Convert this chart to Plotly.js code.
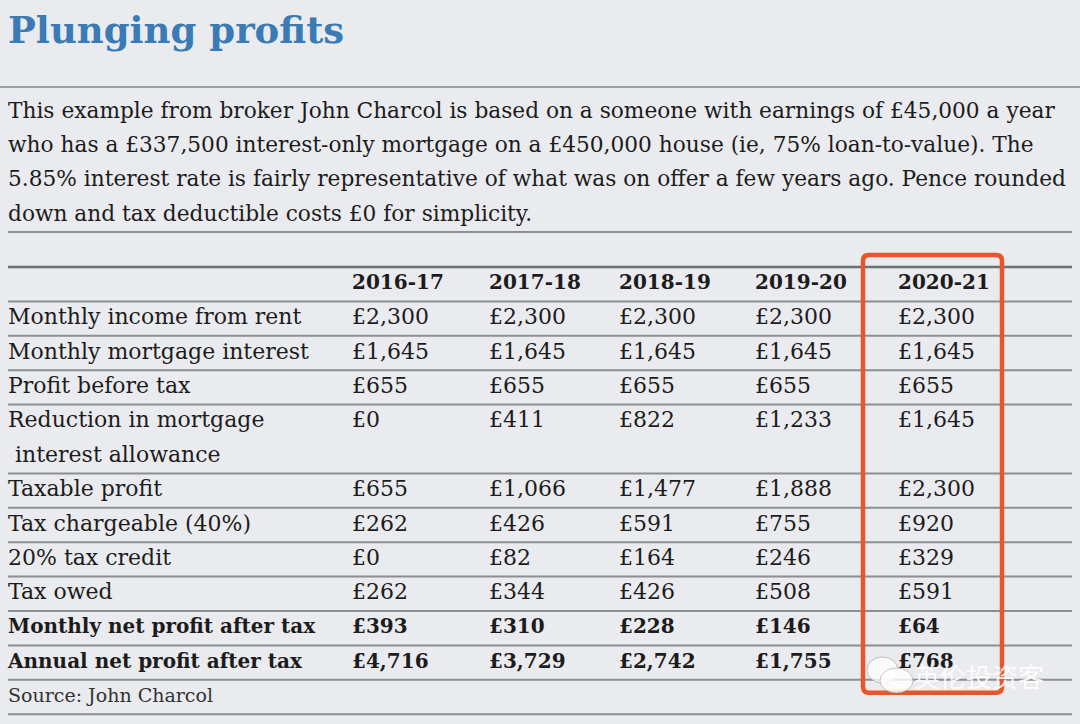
<!DOCTYPE html>
<html>
<head>
<meta charset="utf-8">
<script src="https://cdn.plot.ly/plotly-3.0.1.min.js"></script>
<style>html,body{margin:0;padding:0;background:#e9ebee;}#chart{width:1080px;height:724px;}</style>
</head>
<body>
<div id="chart"></div>
<script>
// ---- data ----
const chartTitle = "Plunging profits";
const introLines = [
  "This example from broker John Charcol is based on a someone with earnings of £45,000 a year",
  "who has a £337,500 interest-only mortgage on a £450,000 house (ie, 75% loan-to-value). The",
  "5.85% interest rate is fairly representative of what was on offer a few years ago. Pence rounded",
  "down and tax deductible costs £0 for simplicity."
];
const years = ["2016-17", "2017-18", "2018-19", "2019-20", "2020-21"];
const rowLabels = [
  ["Monthly income from rent"],
  ["Monthly mortgage interest"],
  ["Profit before tax"],
  ["Reduction in mortgage", " interest allowance"],
  ["Taxable profit"],
  ["Tax chargeable (40%)"],
  ["20% tax credit"],
  ["Tax owed"],
  ["Monthly net profit after tax"],
  ["Annual net profit after tax"]
];
const boldRows = [false, false, false, false, false, false, false, false, true, true];
const col2016 = ["£2,300", "£1,645", "£655", "£0", "£655", "£262", "£0", "£262", "£393", "£4,716"];
const col2017 = ["£2,300", "£1,645", "£655", "£411", "£1,066", "£426", "£82", "£344", "£310", "£3,729"];
const col2018 = ["£2,300", "£1,645", "£655", "£822", "£1,477", "£591", "£164", "£426", "£228", "£2,742"];
const col2019 = ["£2,300", "£1,645", "£655", "£1,233", "£1,888", "£755", "£246", "£508", "£146", "£1,755"];
const col2020 = ["£2,300", "£1,645", "£655", "£1,645", "£2,300", "£920", "£329", "£591", "£64", "£768"];
const sourceText = "Source: John Charcol";
const watermark = "英伦投资客";

// ---- layout constants ----
const W = 1080, H = 724;
const labelX = 8;
const colX = [352, 489, 619, 755, 898];
const tableTop = 267, rowH = 34.4;
const serif = "DejaVu Serif, serif";
const txtSize = 22;
const boldSize = 20;
const txtColor = "#1c1c1c";
const lineColor = "#8c8e91";

const valueCols = [col2016, col2017, col2018, col2019, col2020];

let lineIdx = 1; // header occupies line 0
const rowY = [];
const labelYs = [], labelTexts = [], labelXs = [], labelSizes = [];
const boundaries = [tableTop, tableTop + rowH];
rowLabels.forEach((lines, r) => {
  rowY.push(tableTop + (lineIdx + 0.5) * rowH);
  lines.forEach((ln, k) => {
    labelYs.push(tableTop + (lineIdx + k + 0.5) * rowH);
    labelTexts.push(boldRows[r] ? "<b>" + ln + "</b>" : ln);
    labelXs.push(labelX);
    labelSizes.push(boldRows[r] ? boldSize : txtSize);
  });
  lineIdx += lines.length;
  boundaries.push(tableTop + lineIdx * rowH);
});
const tableBottom = tableTop + lineIdx * rowH;
const sourceY = tableBottom + 0.5 * rowH;
boundaries.push(tableBottom + rowH);

const traces = [];
traces.push({
  type: "scatter", mode: "text", x: labelXs, y: labelYs, text: labelTexts,
  textposition: "middle right", hoverinfo: "skip", showlegend: false,
  textfont: {family: serif, size: labelSizes, color: txtColor}
});
valueCols.forEach((col, c) => {
  const xs = [colX[c]].concat(col.map(() => colX[c]));
  const ys = [tableTop + 0.5 * rowH].concat(rowY);
  const ts = ["<b>" + years[c] + "</b>"].concat(col.map((v, r) => boldRows[r] ? "<b>" + v + "</b>" : v));
  const sz = [boldSize].concat(col.map((v, r) => boldRows[r] ? boldSize : txtSize));
  traces.push({
    type: "scatter", mode: "text", x: xs, y: ys, text: ts,
    textposition: "middle right", hoverinfo: "skip", showlegend: false,
    textfont: {family: serif, size: sz, color: txtColor}
  });
});
traces.push({
  type: "scatter", mode: "text", x: [labelX], y: [sourceY], text: [sourceText],
  textposition: "middle right", hoverinfo: "skip", showlegend: false,
  textfont: {family: serif, size: 19, color: "#333"}
});

const shapes = [];
shapes.push({type: "line", xref: "x", yref: "y", x0: 0, x1: W, y0: 87, y1: 87, line: {color: "#9a9c9f", width: 2}});
shapes.push({type: "line", xref: "x", yref: "y", x0: 8, x1: 1072, y0: 232, y1: 232, line: {color: lineColor, width: 2}});
boundaries.forEach((b, i) => {
  shapes.push({type: "line", xref: "x", yref: "y", x0: 8, x1: 1072, y0: b, y1: b,
    line: {color: i === 0 ? "#6d6f72" : lineColor, width: i === 0 ? 2.5 : 2}});
});
const bx0 = colX[4] - 35, bx1 = colX[4] + 104, by0 = tableTop - 12, by1 = tableBottom + 13, rr = 6;
shapes.push({type: "path", xref: "x", yref: "y",
  path: `M ${bx0 + rr} ${by0} L ${bx1 - rr} ${by0} Q ${bx1} ${by0} ${bx1} ${by0 + rr} L ${bx1} ${by1 - rr} Q ${bx1} ${by1} ${bx1 - rr} ${by1} L ${bx0 + rr} ${by1} Q ${bx0} ${by1} ${bx0} ${by1 - rr} L ${bx0} ${by0 + rr} Q ${bx0} ${by0} ${bx0 + rr} ${by0} Z`,
  line: {color: "#e8552b", width: 4.5}, fillcolor: "rgba(0,0,0,0)"});
shapes.push({type: "circle", xref: "x", yref: "y", x0: 867, x1: 898, y0: 657, y1: 683, line: {color: "rgba(150,150,150,0.55)", width: 1}, fillcolor: "rgba(255,255,255,0.75)"});
shapes.push({type: "circle", xref: "x", yref: "y", x0: 880, x1: 913, y0: 668, y1: 693, line: {color: "rgba(150,150,150,0.55)", width: 1}, fillcolor: "rgba(255,255,255,0.8)"});

const annotations = [];
annotations.push({xref: "x", yref: "y", x: 6, y: 30, xanchor: "left", yanchor: "middle", showarrow: false,
  text: "<b>" + chartTitle + "</b>", font: {family: serif, size: 37, color: "#3b7bb5"}});
introLines.forEach((ln, i) => {
  annotations.push({xref: "x", yref: "y", x: 6, y: 110 + i * 34.4, xanchor: "left", yanchor: "middle", showarrow: false,
    text: ln, font: {family: serif, size: 21.7, color: txtColor}});
});
annotations.push({xref: "x", yref: "y", x: 912, y: 675, xanchor: "left", yanchor: "middle", showarrow: false,
  text: watermark, font: {family: "Noto Sans CJK SC", size: 26, color: "rgba(255,255,255,0.9)"}});

const layout = {
  width: W, height: H,
  margin: {l: 0, r: 0, t: 0, b: 0},
  paper_bgcolor: "#e9ebee", plot_bgcolor: "#e9ebee",
  xaxis: {range: [0, W], visible: false, fixedrange: true},
  yaxis: {range: [H, 0], visible: false, fixedrange: true},
  shapes: shapes, annotations: annotations, showlegend: false
};
Plotly.newPlot("chart", traces, layout, {displayModeBar: false, staticPlot: true});
</script>
</body>
</html>
